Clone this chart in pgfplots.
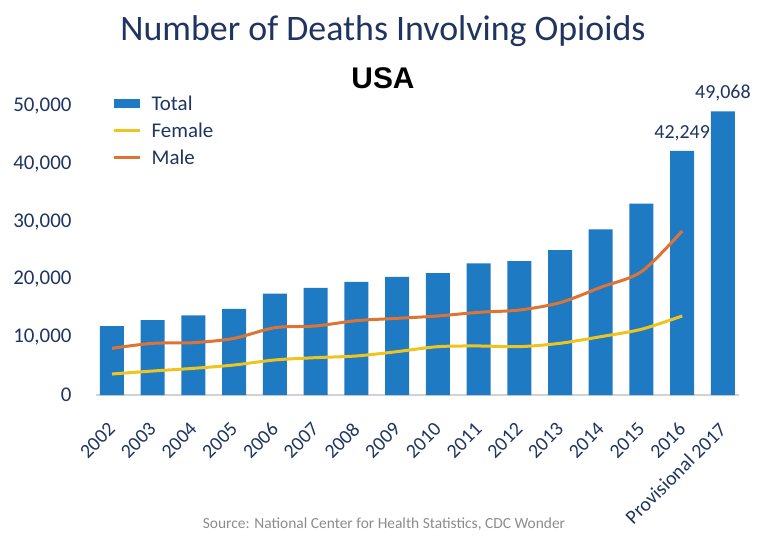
\documentclass[border=0pt]{standalone}
\usepackage{pgfplots}
\pgfplotsset{compat=1.18}
\usepackage{fontspec}
\setmainfont{Carlito}
\newfontfamily\arialfont{Liberation Sans}
\definecolor{barblue}{RGB}{31,122,196}
\definecolor{femyellow}{RGB}{240,196,30}
\definecolor{maleorange}{RGB}{222,116,52}
\definecolor{navy}{RGB}{31,52,96}
\definecolor{srcgray}{RGB}{140,140,140}
\begin{document}
\begin{tikzpicture}
\useasboundingbox (0bp,0bp) rectangle (763bp,543bp);
\node[font=\fontsize{36}{40}\selectfont, text=navy] at (383bp,512bp) {Number of Deaths Involving Opioids};
\node[font=\arialfont\bfseries\fontsize{30}{34}\selectfont] at (383bp,465bp) {USA};
\node[font=\fontsize{15.5}{18}\selectfont, text=srcgray] at (384bp,19bp) {Source: National Center for Health Statistics, CDC Wonder};
\begin{axis}[
  at={(95.7bp,148bp)}, anchor=south west,
  scale only axis, width=643.5bp, height=300.6bp,
  xmin=-0.4, xmax=15.4, ymin=0, ymax=52000,
  scaled y ticks=false,
  axis line style={draw=none}, tick style={draw=none},
  xtick={0,...,15},
  xticklabels={2002,2003,2004,2005,2006,2007,2008,2009,2010,2011,2012,2013,2014,2015,2016,Provisional 2017},
  xticklabel style={xshift=0bp, yshift=-31bp, rotate=45, anchor=east, inner sep=0pt, font=\fontsize{20}{24}\selectfont, text=navy},
  ytick={0,10000,20000,30000,40000,50000},
  yticklabels={0,{10,000},{20,000},{30,000},{40,000},{50,000}},
  yticklabel style={anchor=east, inner sep=0pt, xshift=-24bp, font=\fontsize{21}{24}\selectfont, text=navy},
  extra y ticks={0}, extra y tick labels={},
  extra y tick style={grid=major, major grid style={draw=gray!35, line width=1.2bp}},
  legend style={at={(0.026,1.003)}, anchor=north west, draw=none, fill=none, inner sep=0pt,
    font=\fontsize{21}{24}\selectfont, text=navy, row sep=7bp,
    /tikz/every odd column/.append style={column sep=8bp}},
  legend cell align=left,
  legend image code/.code={\draw[#1, line width=3bp] (0bp,0bp) -- (26bp,0bp);},
  clip=false,
]
\addplot[ybar, bar width=24bp, fill=barblue, draw=none,
  legend image code/.code={\fill[barblue] (0bp,-4.5bp) rectangle (26bp,4.5bp);}]
  coordinates {(0,11920) (1,12940) (2,13756) (3,14918) (4,17545) (5,18516) (6,19582) (7,20422)
  (8,21089) (9,22784) (10,23166) (11,25052) (12,28647) (13,33091) (14,42249) (15,49068)};
\addlegendentry{Total}
\addplot[femyellow, line width=3bp, smooth, mark=none]
  coordinates {(0,3630) (1,4150) (2,4610) (3,5190) (4,6060) (5,6460) (6,6750) (7,7500)
  (8,8360) (9,8480) (10,8360) (11,8940) (12,10090) (13,11370) (14,13670)};
\addlegendentry{Female}
\addplot[maleorange, line width=3bp, smooth, mark=none]
  coordinates {(0,8080) (1,8940) (2,9050) (3,9800) (4,11650) (5,11940) (6,12860) (7,13260)
  (8,13670) (9,14300) (10,14700) (11,15970) (12,18630) (13,21340) (14,28370)};
\addlegendentry{Male}
\addplot[only marks, mark=none, forget plot, nodes near coords, point meta=explicit symbolic,
  nodes near coords style={font=\fontsize{20}{24}\selectfont, text=navy, anchor=south, inner sep=0pt, yshift=10bp}]
  coordinates {(14,42249) [{42,249}] (15,49068) [{49,068}]};
\end{axis}
\end{tikzpicture}
\end{document}
